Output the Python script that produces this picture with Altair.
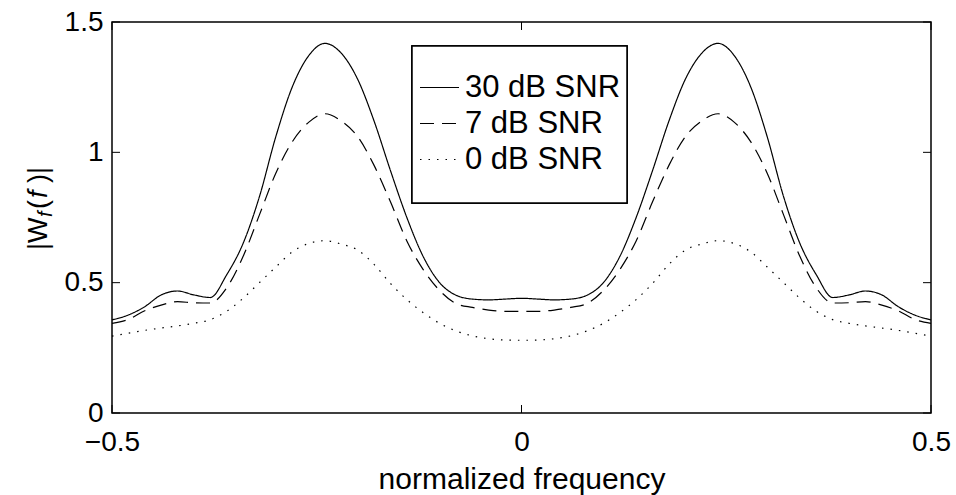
import altair as alt
import pandas as pd

# ---------------- data ----------------
freq = [-0.50, -0.48, -0.46, -0.44, -0.42, -0.40, -0.38, -0.36, -0.34, -0.32,
        -0.30, -0.28, -0.26, -0.24, -0.22, -0.20, -0.18, -0.16, -0.14, -0.12,
        -0.10, -0.08, -0.06, -0.04, -0.02, 0.00, 0.02, 0.04, 0.06, 0.08,
        0.10, 0.12, 0.14, 0.16, 0.18, 0.20, 0.22, 0.24, 0.26, 0.28,
        0.30, 0.32, 0.34, 0.36, 0.38, 0.40, 0.42, 0.44, 0.46, 0.48, 0.50]

snr30 = [0.357, 0.376, 0.408, 0.453, 0.468, 0.453, 0.443, 0.530, 0.650, 0.830,
         1.060, 1.250, 1.370, 1.418, 1.380, 1.280, 1.120, 0.930, 0.750, 0.600,
         0.500, 0.452, 0.437, 0.434, 0.437, 0.440, 0.437, 0.434, 0.437, 0.452,
         0.500, 0.600, 0.750, 0.930, 1.120, 1.280, 1.380, 1.418, 1.370, 1.250,
         1.060, 0.830, 0.650, 0.530, 0.443, 0.453, 0.468, 0.453, 0.408, 0.376, 0.357]

snr7 = [0.344, 0.359, 0.392, 0.414, 0.427, 0.423, 0.422, 0.480, 0.600, 0.760,
        0.920, 1.040, 1.115, 1.148, 1.120, 1.060, 0.950, 0.810, 0.660, 0.550,
        0.470, 0.420, 0.405, 0.395, 0.390, 0.390, 0.390, 0.395, 0.405, 0.420,
        0.470, 0.550, 0.660, 0.810, 0.950, 1.060, 1.120, 1.148, 1.115, 1.040,
        0.920, 0.760, 0.600, 0.480, 0.422, 0.423, 0.427, 0.414, 0.392, 0.359, 0.344]

snr0 = [0.295, 0.306, 0.317, 0.326, 0.334, 0.344, 0.358, 0.390, 0.440, 0.500,
        0.560, 0.618, 0.650, 0.661, 0.648, 0.625, 0.570, 0.497, 0.435, 0.385,
        0.344, 0.315, 0.296, 0.285, 0.280, 0.279, 0.280, 0.285, 0.296, 0.315,
        0.344, 0.385, 0.435, 0.497, 0.570, 0.625, 0.648, 0.661, 0.650, 0.618,
        0.560, 0.500, 0.440, 0.390, 0.358, 0.344, 0.334, 0.326, 0.317, 0.306, 0.295]

series_names = ["30 dB SNR", "7 dB SNR", "0 dB SNR"]
x_ticks = [-0.5, 0.0, 0.5]
y_ticks = [0.0, 0.5, 1.0, 1.5]

# ---------------- build tables ----------------
rows = []
for name, vals in zip(series_names, [snr30, snr7, snr0]):
    for f, v in zip(freq, vals):
        rows.append({"freq": f, "value": v, "series": name})
df = pd.DataFrame(rows)
df_xt = pd.DataFrame({"freq": x_ticks})
df_yt = pd.DataFrame({"value": y_ticks})

W, H = 819, 391
FONT = "Liberation Sans"

xscale = alt.Scale(domain=[-0.5, 0.5], nice=False, zero=False)
yscale = alt.Scale(domain=[0, 1.5], nice=False)

xaxis = alt.Axis(values=x_ticks, format="~g", title="normalized frequency",
                 ticks=False, domain=False, grid=False,
                 labelFontSize=28, labelPadding=15, labelColor="black",
                 titleFontSize=30, titleFontWeight="normal",
                 titlePadding=8, titleColor="black", labelFlush=False)
yaxis = alt.Axis(values=y_ticks, format="~g", title=None,
                 ticks=False, domain=False, grid=False,
                 labelFontSize=28, labelPadding=9, labelColor="black")

X = alt.X("freq:Q", scale=xscale, axis=xaxis, title="normalized frequency")
Y = alt.Y("value:Q", scale=yscale, axis=yaxis, title=None)

lines = alt.Chart(df).mark_line(
    interpolate="monotone", color="black", strokeWidth=1.2
).encode(
    x=X, y=Y,
    strokeDash=alt.StrokeDash(
        "series:N",
        scale=alt.Scale(domain=series_names, range=[[1, 0], [14, 8], [1.5, 7]]),
        sort=series_names,
        legend=alt.Legend(orient="none", legendX=307, legendY=45, title=None,
                          symbolType="stroke", symbolSize=1521,
                          symbolStrokeColor="black", symbolStrokeWidth=1.2,
                          labelFontSize=31, labelOffset=5, labelLimit=400,
                          labelColor="black", rowPadding=0, padding=0),
    ),
)

box = alt.Chart(df_xt).mark_rect(
    fill="white", stroke="black", strokeWidth=1.5
).encode(
    x=alt.value(300), x2=alt.value(515), y=alt.value(24), y2=alt.value(181)
)

tick_b = alt.Chart(df_xt).mark_rule(color="black", strokeWidth=1).encode(
    x=X, y=alt.value(H), y2=alt.value(H - 8))
tick_t = alt.Chart(df_xt).mark_rule(color="black", strokeWidth=1).encode(
    x=X, y=alt.value(0), y2=alt.value(8))
tick_l = alt.Chart(df_yt).mark_rule(color="black", strokeWidth=1).encode(
    y=Y, x=alt.value(0), x2=alt.value(8))
tick_r = alt.Chart(df_yt).mark_rule(color="black", strokeWidth=1).encode(
    y=Y, x=alt.value(W), x2=alt.value(W - 8))

# y-axis title |W_f(f)| built from pieces (rotated text)
def ytxt(text, y, x=-65, size=27, style="normal"):
    return alt.Chart(df_xt.head(1)).mark_text(
        text=text, angle=270, align="left", baseline="alphabetic",
        fontSize=size, fontStyle=style, font=FONT, color="black"
    ).encode(x=alt.value(x), y=alt.value(y))

ytitle = (ytxt("|W", 228) + ytxt("f", 195, x=-60, size=20, style="italic")
          + ytxt("(", 187) + ytxt("f", 176, style="italic") + ytxt(")|", 161))

chart = alt.layer(
    lines, box, tick_b, tick_t, tick_l, tick_r, ytitle
).properties(
    width=W, height=H,
    autosize=alt.AutoSizeParams(type="none"),
    padding={"left": 112, "top": 22, "right": 25, "bottom": 82},
    background="white",
).configure(font=FONT).configure_view(
    stroke="black", strokeWidth=1.5
)

chart.save("out.html", embed_options={"renderer": "svg", "actions": False})
